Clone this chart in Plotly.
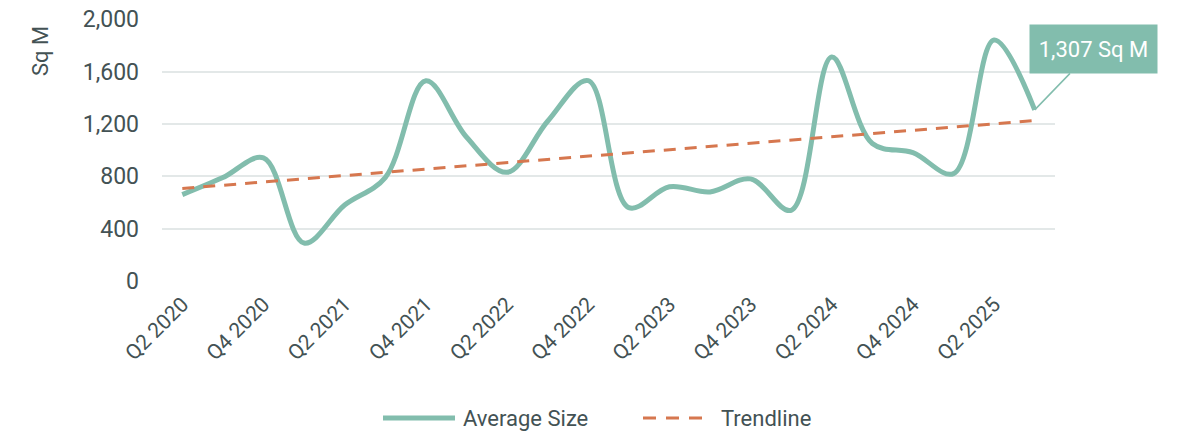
import numpy as np
import plotly.graph_objects as go

quarters = ["Q2 2020", "Q3 2020", "Q4 2020", "Q1 2021", "Q2 2021", "Q3 2021",
            "Q4 2021", "Q1 2022", "Q2 2022", "Q3 2022", "Q4 2022", "Q1 2023",
            "Q2 2023", "Q3 2023", "Q4 2023", "Q1 2024", "Q2 2024", "Q3 2024",
            "Q4 2024", "Q1 2025", "Q2 2025", "Q3 2025"]
average_size = [660, 790, 940, 290, 580, 790, 1530, 1100, 830, 1220, 1530, 560,
                720, 680, 780, 540, 1710, 1050, 980, 820, 1840, 1307]
tick_labels = quarters[::2]
y_ticks = [0, 400, 800, 1200, 1600, 2000]

# linear trendline fitted to the series
idx = np.arange(len(average_size))
slope, intercept = np.polyfit(idx, average_size, 1)
trend = [intercept, intercept + slope * idx[-1]]

TEAL = "#82BDAD"
ORANGE = "#D6774F"
TEXT = "#435254"
GRID = "#E3E8E8"
FONT = "Roboto"

W, H = 1188, 431
L, T = 162, 19
PR, PB = 1055, 281  # plot right / bottom in pixels
R, B = W - PR, H - PB
PW, PH = PR - L, PB - T


def px(xp):
    return (xp - L) / PW


def py(yp):
    return (PB - yp) / PH


fig = go.Figure()
fig.add_trace(go.Scatter(
    x=quarters, y=average_size, mode="lines", name="Average Size",
    line=dict(color=TEAL, width=5, shape="spline", smoothing=1.0),
))
fig.add_trace(go.Scatter(
    x=[quarters[0], quarters[-1]], y=trend, mode="lines", name="Trendline",
    line=dict(color=ORANGE, width=3, dash="12px,9px"),
))

fig.add_annotation(
    x=quarters[-1], y=average_size[-1], xref="x", yref="y",
    text=f"{average_size[-1]:,} Sq M",
    showarrow=True, arrowhead=0, arrowwidth=1.5, arrowcolor=TEAL,
    ax=59, ay=-61, bgcolor=TEAL, borderpad=8, width=111, height=32,
    font=dict(family=FONT, size=22, color="white"),
)

# y-axis title placed near the top like the reference
fig.add_annotation(
    x=px(40), y=py(51), xref="paper", yref="paper", text="Sq M",
    showarrow=False, textangle=-90, xanchor="center", yanchor="middle",
    font=dict(family=FONT, size=22, color=TEXT),
)

# custom legend
fig.add_shape(type="line", xref="paper", yref="paper",
              x0=px(383), x1=px(455), y0=py(418), y1=py(418),
              line=dict(color=TEAL, width=5))
fig.add_annotation(x=px(461), y=py(418), xref="paper", yref="paper",
                   text="Average Size", showarrow=False, xanchor="left",
                   yanchor="middle", font=dict(family=FONT, size=22, color=TEXT))
fig.add_shape(type="line", xref="paper", yref="paper",
              x0=px(643), x1=px(703), y0=py(418), y1=py(418),
              line=dict(color=ORANGE, width=3, dash="13px,10px"))
fig.add_annotation(x=px(719), y=py(418), xref="paper", yref="paper",
                   text="Trendline", showarrow=False, xanchor="left",
                   yanchor="middle", font=dict(family=FONT, size=22, color=TEXT))

fig.update_layout(
    width=W, height=H,
    margin=dict(l=L, r=R, t=T, b=B, autoexpand=False),
    paper_bgcolor="white", plot_bgcolor="white",
    font=dict(family=FONT, size=22, color=TEXT),
    showlegend=False,
)
fig.update_xaxes(
    type="category", categoryorder="array", categoryarray=quarters,
    range=[-0.5, len(quarters) - 0.5],
    tickmode="array", tickvals=tick_labels, ticktext=tick_labels,
    tickangle=-45, showgrid=False, showline=False, zeroline=False,
    ticks="", ticklabelstandoff=6, automargin=False,
    tickfont=dict(family=FONT, size=21, color=TEXT),
)
fig.update_yaxes(
    range=[0, 2001], tickvals=y_ticks, tickformat=",",
    showgrid=True, gridcolor=GRID, gridwidth=1.5, zeroline=False,
    showline=False, ticks="", ticklabelstandoff=22, automargin=False,
    ticklabeloverflow="allow",
    tickfont=dict(family=FONT, size=23, color=TEXT),
)

fig.write_html(
    "out.html",
    config={"displayModeBar": False},
    post_script="document.body.style.margin='0';document.body.style.overflow='hidden';",
)
